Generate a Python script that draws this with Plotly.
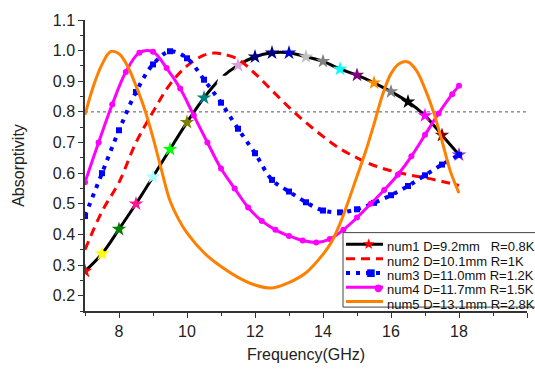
import plotly.graph_objects as go

# ---- data ----
x1 = [7, 7.5, 8, 8.5, 9, 9.5, 10, 10.5, 11, 11.5, 12, 12.5, 13, 13.5, 14, 14.5, 15, 15.5, 16, 16.5, 17, 17.5, 18]
y1 = [0.28, 0.337, 0.417, 0.50, 0.588, 0.678, 0.766, 0.846, 0.91, 0.952, 0.98, 0.993, 0.993, 0.98, 0.965, 0.94,
      0.92, 0.895, 0.866, 0.833, 0.788, 0.724, 0.66]
star_colors = ["#ff0000", "#ffff00", "#008000", "#ff1493", "#aaffff", "#00ff00", "#808000", "#008080", "#ffffff",
               "#dda0dd", "#000080", "#000080", "#0000cd", "#c0c0c0", "#808080", "#00ffff", "#800080", "#ff8c00",
               "#808080", "#000000", "#ff00ff", "#800000", "#8a2be2"]

x2 = [7, 7.5, 8, 8.5, 9, 9.5, 10, 10.5, 10.8, 11, 11.5, 12, 12.5, 13, 13.5, 14, 14.5, 15, 15.5, 16, 16.5, 17, 17.5, 18]
y2 = [0.35, 0.475, 0.57, 0.70, 0.80, 0.89, 0.95, 0.985, 0.992, 0.99, 0.972, 0.925, 0.87, 0.815, 0.765, 0.72, 0.68,
      0.65, 0.625, 0.608, 0.595, 0.585, 0.573, 0.56]

x3 = [7, 7.5, 8, 8.5, 9, 9.5, 10, 10.5, 11, 11.5, 12, 12.5, 13, 13.5, 14, 14.5, 15, 15.5, 16, 16.5, 17, 17.5, 18]
y3 = [0.46, 0.60, 0.74, 0.865, 0.955, 0.998, 0.975, 0.905, 0.83, 0.745, 0.665, 0.578, 0.54, 0.505, 0.478, 0.472,
      0.482, 0.503, 0.528, 0.558, 0.593, 0.628, 0.66]

x4 = [7.0, 7.4, 7.8, 8.2, 8.6, 9.0, 9.4, 9.8, 10.2, 10.6, 11.0, 11.4, 11.8, 12.2, 12.6, 13.0, 13.4, 13.8, 14.2, 14.6,
      15.0, 15.4, 15.8, 16.2, 16.6, 17.0, 17.4, 17.8, 18.0]
y4 = [0.57, 0.70, 0.824, 0.93, 0.993, 0.996, 0.943, 0.876, 0.788, 0.70, 0.615, 0.55, 0.488, 0.444, 0.415, 0.395,
      0.38, 0.374, 0.385, 0.415, 0.455, 0.50, 0.545, 0.595, 0.655, 0.725, 0.795, 0.858, 0.885]

x5 = [7.0, 7.25, 7.5, 7.75, 8.0, 8.25, 8.5, 8.75, 9.0, 9.25, 9.5, 9.75, 10.0, 10.5, 11.0, 11.5, 12.0, 12.5, 13.0,
      13.5, 14.0, 14.25, 14.5, 14.75, 15.0, 15.25, 15.5, 15.75, 16.0, 16.25, 16.5, 16.75, 17.0, 17.25, 17.5, 17.75, 18.0]
y5 = [0.79, 0.885, 0.955, 0.997, 0.99, 0.95, 0.885, 0.81, 0.716, 0.61, 0.51, 0.45, 0.405, 0.34, 0.295, 0.26, 0.235,
      0.225, 0.243, 0.275, 0.335, 0.375, 0.435, 0.51, 0.59, 0.67, 0.76, 0.855, 0.925, 0.958, 0.963, 0.935, 0.875,
      0.80, 0.705, 0.605, 0.535]

names = ["num1 D=9.2mm\u00a0\u00a0\u00a0R=0.8K", "num2 D=10.1mm R=1K", "num3 D=11.0mm R=1.2K",
         "num4 D=11.7mm R=1.5K", "num5 D=13.1mm R=2.8K"]
THRESHOLD = 0.8
X_RANGE = [7, 20]
Y_RANGE = [0.15, 1.1]

FONT = "Liberation Sans, Arial, sans-serif"

# ---- layout geometry (pixels) ----
W, H = 535, 369
ML, MR, MT, MB = 85, 8, 20, 52
PW, PH = W - ML - MR, H - MT - MB


def px(x):
    return (x - ML) / PW


def py(y):
    return (H - MB - y) / PH


fig = go.Figure()
fig.add_trace(go.Scatter(x=x1, y=y1, name=names[0], mode="lines+markers",
                         line=dict(color="black", width=3, shape="spline"),
                         marker=dict(symbol="star", size=11, color=star_colors, line=dict(width=0))))
fig.add_trace(go.Scatter(x=x2, y=y2, name=names[1], mode="lines",
                         line=dict(color="#ff0000", width=3, dash="9px,6px", shape="spline")))
fig.add_trace(go.Scatter(x=x3, y=y3, name=names[2], mode="lines+markers",
                         line=dict(color="#0000ff", width=4, dash="4px,6px", shape="spline"),
                         marker=dict(symbol="square", size=6, color="#0000ff")))
fig.add_trace(go.Scatter(x=x4, y=y4, name=names[3], mode="lines+markers",
                         line=dict(color="#ff00ff", width=3, shape="spline"),
                         marker=dict(symbol="circle", size=6, color="#ff00ff")))
fig.add_trace(go.Scatter(x=x5, y=y5, name=names[4], mode="lines",
                         line=dict(color="#ff8000", width=3, shape="spline")))

fig.add_shape(type="line", xref="x", yref="y", x0=X_RANGE[0], x1=X_RANGE[1], y0=THRESHOLD, y1=THRESHOLD,
              line=dict(color="#555555", width=1, dash="dot"), layer="below")

# ---- legend box drawn as layout decoration ----
fig.add_shape(type="rect", xref="paper", yref="paper", x0=px(343), x1=px(545), y0=py(313), y1=py(237),
              line=dict(color="#444444", width=1), fillcolor="white", layer="above")
leg_styles = [
    dict(color="black", width=3, dash="solid"),
    dict(color="#ff0000", width=3, dash="9px,6px"),
    dict(color="#0000ff", width=4, dash="4px,6px"),
    dict(color="#ff00ff", width=3, dash="solid"),
    dict(color="#ff8000", width=3, dash="solid"),
]
leg_syms = [("\u2605", "#ff0000", 15, 368), None, ("\u25a0", "#0000ff", 10, 370), ("\u25cf", "#ff00ff", 10, 378), None]
annotations = []
for i, nm in enumerate(names):
    yc = 249 + 14.6 * i
    fig.add_shape(type="line", xref="paper", yref="paper", x0=px(346), x1=px(383), y0=py(yc), y1=py(yc),
                  line=leg_styles[i], layer="above")
    if leg_syms[i] is not None:
        s, c, sz, xx = leg_syms[i]
        annotations.append(dict(text=s, xref="paper", yref="paper", x=px(xx), y=py(yc), xanchor="center",
                                yanchor="middle", showarrow=False, font=dict(size=sz, color=c, family="DejaVu Sans")))
    annotations.append(dict(text=nm, xref="paper", yref="paper", x=px(385), y=py(yc + 2.5), xanchor="left",
                            yanchor="middle", showarrow=False, font=dict(size=13, color="#111111", family=FONT)))

fig.update_layout(
    width=W, height=H,
    margin=dict(l=ML, r=MR, t=MT, b=MB),
    paper_bgcolor="white", plot_bgcolor="white",
    font=dict(family=FONT, color="#222222"),
    showlegend=False,
    annotations=annotations,
    xaxis=dict(range=X_RANGE, tick0=0, dtick=2, showgrid=False, zeroline=False,
               showline=True, linecolor="#333333", linewidth=1.5,
               ticks="outside", ticklen=5, tickwidth=1.2, tickcolor="#333333",
               tickfont=dict(size=16, family=FONT),
               minor=dict(dtick=1, ticks="outside", ticklen=3, tickcolor="#333333", showgrid=False),
               title=dict(text="Frequency(GHz)", font=dict(size=16, family=FONT), standoff=10)),
    yaxis=dict(range=Y_RANGE, tick0=0, dtick=0.1, tickformat=".1f", showgrid=False, zeroline=False,
               showline=True, linecolor="#333333", linewidth=1.5,
               ticks="outside", ticklen=5, tickwidth=1.2, tickcolor="#333333",
               tickfont=dict(size=16, family=FONT),
               minor=dict(dtick=0.05, ticks="outside", ticklen=3, tickcolor="#333333", showgrid=False),
               title=dict(text="Absorptivity", font=dict(size=16, family=FONT), standoff=24)),
)

fig.write_html("out.html", config={"displayModeBar": False},
               post_script="document.body.style.margin='0';document.body.style.overflow='hidden';")
